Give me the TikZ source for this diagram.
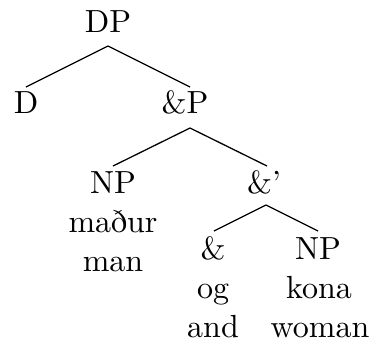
\documentclass[tikz,border=0pt]{standalone}
\begin{document}
\begin{tikzpicture}[x=0.3125pt,y=-0.3125pt,
  lab/.style={anchor=base,inner sep=0pt,font=\fontsize{10}{12}\selectfont},
  edge/.style={line width=0.4pt}]
\useasboundingbox (0,0) rectangle (369,343);
% labels
\node[lab] (dp) at (108,32) {DP};
\node[lab] (d) at (26,113) {D};
\node[lab] (ap) at (185,113) {\&P};
\node[lab] (np1) at (113,193) {NP};
\node[lab] (w1) at (113,232) {maður};
\node[lab] (g1) at (113,271) {man};
\node[lab] (abar) at (264,193) {\&'};
\node[lab] (amp) at (213,259) {\&};
\node[lab] (w2) at (213,298) {og};
\node[lab] (g2) at (213,337) {and};
\node[lab] (np2) at (318,259) {NP};
\node[lab] (w3) at (319,298) {kona};
\node[lab] (g3) at (320,337) {woman};
% attachment points
\coordinate (dp-b) at (108,46);
\coordinate (d-t) at (26,87);
\coordinate (ap-t) at (190,87);
\coordinate (ap-b) at (190,128);
\coordinate (np1-t) at (113,166);
\coordinate (abar-t) at (267,166);
\coordinate (abar-b) at (266,205);
\coordinate (amp-t) at (214,231);
\coordinate (np2-t) at (318,231);
% edges
\draw[edge] (dp-b) -- (d-t);
\draw[edge] (dp-b) -- (ap-t);
\draw[edge] (ap-b) -- (np1-t);
\draw[edge] (ap-b) -- (abar-t);
\draw[edge] (abar-b) -- (amp-t);
\draw[edge] (abar-b) -- (np2-t);
\end{tikzpicture}
\end{document}
